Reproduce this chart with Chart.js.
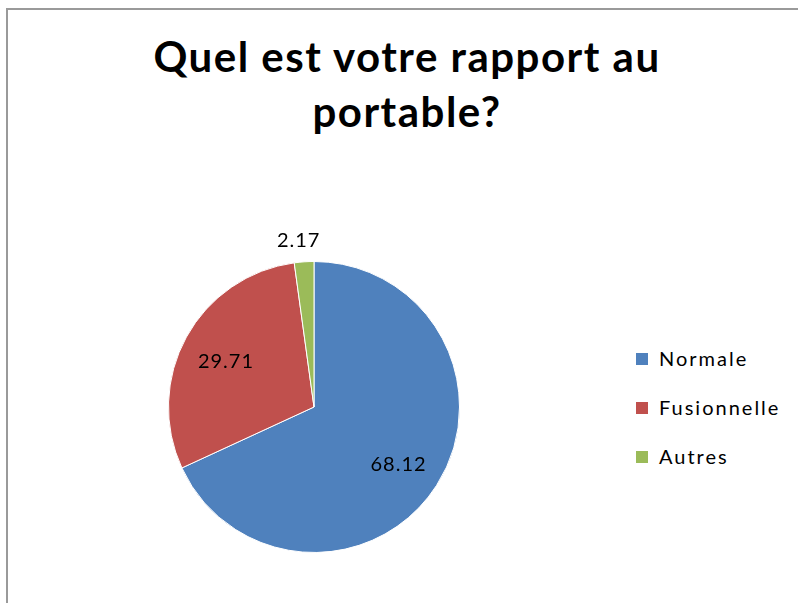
<!DOCTYPE html>
<html>
<head>
<meta charset="utf-8">
<script src="https://cdn.jsdelivr.net/npm/chart.js@4"></script>
<style>
  html, body { margin: 0; padding: 0; background: #fff; }
  body { width: 798px; height: 603px; position: relative; overflow: hidden; font-family: Lato, "Open Sans", sans-serif; }
  #frame { position: absolute; left: 6px; top: 8px; right: -10px; bottom: -10px; border-top: 2px solid #9a9a9a; border-left: 2px solid #9a9a9a; }
  #title { position: absolute; left: 0; width: 814px; top: 29px; text-align: center; font-weight: bold; font-size: 42px; line-height: 55px; letter-spacing: 1.5px; color: #000; }
  #wrap { position: absolute; left: 0; top: 200px; width: 628px; height: 403px; }
  #legend { position: absolute; left: 636px; top: 346px; font-size: 20px; line-height: 24px; letter-spacing: 2px; color: #000; }
  .item { height: 49px; position: relative; }
  .sw { position: absolute; left: 0; top: 7px; width: 12px; height: 12px; }
  .lbl { position: absolute; left: 23px; top: 0; white-space: nowrap; }
</style>
</head>
<body>
<div id="frame"></div>
<div id="title">Quel est votre rapport au<br>portable?</div>
<div id="wrap"><canvas id="pie"></canvas></div>
<div id="legend"></div>
<script>
const categories = ['Normale', 'Fusionnelle', 'Autres'];
const values = [68.12, 29.71, 2.17];
const colors = ['#4F81BD', '#C0504D', '#9BBB59'];

document.addEventListener('DOMContentLoaded', function () {
    // legend on the right
    const legend = document.getElementById('legend');
    categories.forEach((name, i) => {
        const row = document.createElement('div');
        row.className = 'item';
        row.innerHTML = '<span class="sw" style="background:' + colors[i] + '"></span><span class="lbl">' + name + '</span>';
        legend.appendChild(row);
    });

    // value labels: inside the slice, or just outside when it is too thin
    const sliceLabels = {
        id: 'sliceLabels',
        afterDatasetsDraw(chart) {
            const ctx = chart.ctx;
            const meta = chart.getDatasetMeta(0);
            ctx.save();
            ctx.font = '20px Lato, "Open Sans", sans-serif';
            ctx.letterSpacing = '1px';
            ctx.fillStyle = '#000';
            ctx.textAlign = 'center';
            ctx.textBaseline = 'middle';
            meta.data.forEach((arc, i) => {
                const p = arc.getProps(['x', 'y', 'startAngle', 'endAngle', 'outerRadius'], true);
                const mid = (p.startAngle + p.endAngle) / 2;
                const small = values[i] < 5;
                const r = small ? p.outerRadius + 21 : p.outerRadius * 0.69;
                ctx.fillText(String(values[i]), p.x + Math.cos(mid) * r - (small ? 4 : 0), p.y + Math.sin(mid) * r + (small ? 0 : 3));
            });
            ctx.restore();
        }
    };

    new Chart(document.getElementById('pie'), {
        type: 'pie',
        data: {
            labels: categories,
            datasets: [{ data: values, backgroundColor: colors, borderColor: '#fff', borderWidth: 1, hoverOffset: 0 }]
        },
        options: {
            responsive: true,
            maintainAspectRatio: false,
            animation: false,
            events: [],
            layout: { padding: { top: 61, bottom: 50 } },
            plugins: { legend: { display: false }, tooltip: { enabled: false } }
        },
        plugins: [sliceLabels]
    });
});
</script>
</body>
</html>
